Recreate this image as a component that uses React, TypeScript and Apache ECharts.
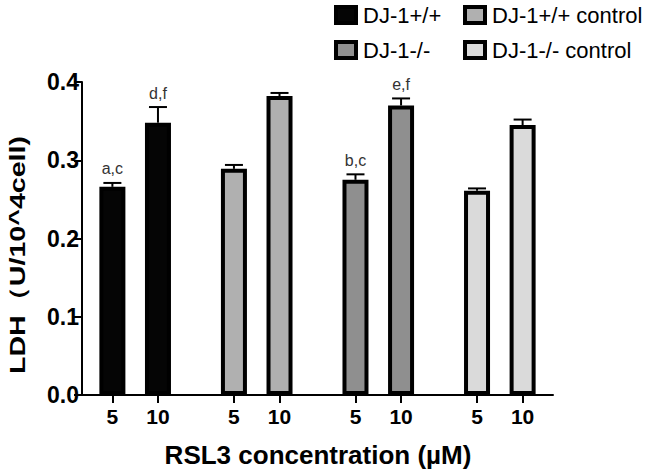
import React, { useEffect, useRef } from "react";
import * as echarts from "echarts";

// ---- data ----
const groups = ["DJ-1+/+", "DJ-1+/+ control", "DJ-1-/-", "DJ-1-/- control"];
const concentrations = ["5", "10"];
const wtValues = [0.266, 0.348];
const wtErrors = [0.005, 0.02];
const wtCtrlValues = [0.289, 0.382];
const wtCtrlErrors = [0.005, 0.004];
const koValues = [0.275, 0.37];
const koErrors = [0.007, 0.009];
const koCtrlValues = [0.261, 0.345];
const koCtrlErrors = [0.003, 0.007];
const wtLetters = ["a,c", "d,f"];
const wtCtrlLetters = ["", ""];
const koLetters = ["b,c", "e,f"];
const koCtrlLetters = ["", ""];
const yTicks = [0, 0.1, 0.2, 0.3, 0.4];

// ---- layout / style ----
const slots = [
  [0, 3],
  [8, 11],
  [16, 19],
  [24, 27],
];
const colors = ["#050505", "#b0b0b0", "#8f8f8f", "#dadada"];
const FONT = "Liberation Sans, Arial, Helvetica, sans-serif";

const allValues = [wtValues, wtCtrlValues, koValues, koCtrlValues];
const allErrors = [wtErrors, wtCtrlErrors, koErrors, koCtrlErrors];
const allLetters = [wtLetters, wtCtrlLetters, koLetters, koCtrlLetters];

export default function App() {
  const ref = useRef<HTMLDivElement>(null);
  useEffect(() => {
    if (!ref.current) return;
    const chart = echarts.init(ref.current, undefined, { renderer: "svg" });

    const tickPositions = slots.flat();
    const tickLabelMap: Record<number, string> = {};
    slots.forEach((s) => s.forEach((p, i) => (tickLabelMap[p] = concentrations[i])));

    const barSeries = groups.map((g, gi) => ({
      name: g,
      type: "bar",
      barWidth: 26,
      barGap: "-100%",
      itemStyle: { color: colors[gi], borderColor: "#000", borderWidth: 4 },
      data: allValues[gi].map((v, i) => [slots[gi][i], v]),
      z: 2,
    }));

    const errData: any[] = [];
    const errLabels: string[] = [];
    groups.forEach((g, gi) => {
      allValues[gi].forEach((v, i) => {
        errData.push([slots[gi][i], v, allErrors[gi][i]]);
        errLabels.push(allLetters[gi][i]);
      });
    });

    const errSeries = {
      type: "custom",
      z: 5,
      silent: true,
      data: errData,
      renderItem: (params: any, api: any) => {
        const x = api.value(0);
        const v = api.value(1);
        const e = api.value(2);
        const base = api.coord([x, v]);
        const top = api.coord([x, v + e]);
        const children: any[] = [
          {
            type: "line",
            shape: { x1: base[0], y1: base[1], x2: top[0], y2: top[1] },
            style: { stroke: "#000", lineWidth: 2 },
          },
          {
            type: "line",
            shape: { x1: top[0] - 9, y1: top[1], x2: top[0] + 9, y2: top[1] },
            style: { stroke: "#000", lineWidth: 2 },
          },
        ];
        const lab = errLabels[params.dataIndex];
        if (lab) {
          children.push({
            type: "text",
            x: top[0],
            y: top[1] - 6,
            style: {
              text: lab,
              fontSize: 16,
              fontFamily: FONT,
              fill: "#333",
              textAlign: "center",
              textVerticalAlign: "bottom",
            },
          });
        }
        return { type: "group", children };
      },
    };

    const legendPos = [
      { left: 334, top: 4 },
      { left: 463, top: 4 },
      { left: 334, top: 39 },
      { left: 463, top: 39 },
    ];

    chart.setOption({
      animation: false,
      grid: { left: 82, right: 92, top: 82, bottom: 74 },
      legend: groups.map((g, gi) => ({
        data: [{ name: g, itemStyle: { borderColor: "#000", borderWidth: 4 } }],
        left: legendPos[gi].left,
        top: legendPos[gi].top,
        padding: 0,
        selectedMode: false,
        icon: "rect",
        itemWidth: 20,
        itemHeight: 16,
        itemGap: 0,
        itemStyle: { borderColor: "#000", borderWidth: 4 },
        textStyle: { fontSize: 22, fontFamily: FONT, color: "#000", padding: [0, 0, 0, 2] },
      })),
      xAxis: {
        type: "value",
        min: -2,
        max: 29,
        splitLine: { show: false },
        minorSplitLine: { show: false },
        axisLine: { show: true, onZero: false, lineStyle: { color: "#000", width: 2 } },
        axisTick: {
          show: true,
          customValues: tickPositions,
          length: 8,
          lineStyle: { color: "#000", width: 2 },
        },
        axisLabel: {
          customValues: tickPositions,
          formatter: (v: number) => tickLabelMap[v] ?? "",
          fontSize: 21,
          fontWeight: "bold",
          fontFamily: FONT,
          color: "#000",
          margin: 11,
        },
      },
      yAxis: {
        type: "value",
        min: 0,
        max: 0.4,
        interval: 0.1,
        splitLine: { show: false },
        minorSplitLine: { show: false },
        axisLine: { show: true, onZero: false, lineStyle: { color: "#000", width: 2 } },
        axisTick: {
          show: true,
          length: 8,
          lineStyle: { color: "#000", width: 2 },
        },
        axisLabel: {
          formatter: (v: number) => {
            const t = yTicks.find((y) => Math.abs(y - v) < 1e-9);
            return (t ?? v).toFixed(1);
          },
          fontSize: 23,
          fontWeight: "bold",
          fontFamily: FONT,
          color: "#000",
          margin: 3,
        },
      },
      graphic: [
        {
          type: "text",
          x: 17,
          y: 255,
          rotation: Math.PI / 2,
          scaleX: 1.3,
          style: {
            text: "LDH（U/10^4cell)",
            fontSize: 22,
            fontWeight: "bold",
            fontFamily: FONT,
            fill: "#000",
            textAlign: "center",
            textVerticalAlign: "middle",
          },
        },
        {
          type: "text",
          x: 318,
          y: 455,
          style: {
            text: "RSL3 concentration (µM)",
            fontSize: 26,
            fontWeight: "bold",
            fontFamily: FONT,
            fill: "#000",
            textAlign: "center",
            textVerticalAlign: "middle",
          },
        },
      ],
      series: [...barSeries, errSeries],
    });
    return () => chart.dispose();
  }, []);
  return <div ref={ref} style={{ width: 645, height: 469, position: "absolute", left: 0, top: 0 }} />;
}
